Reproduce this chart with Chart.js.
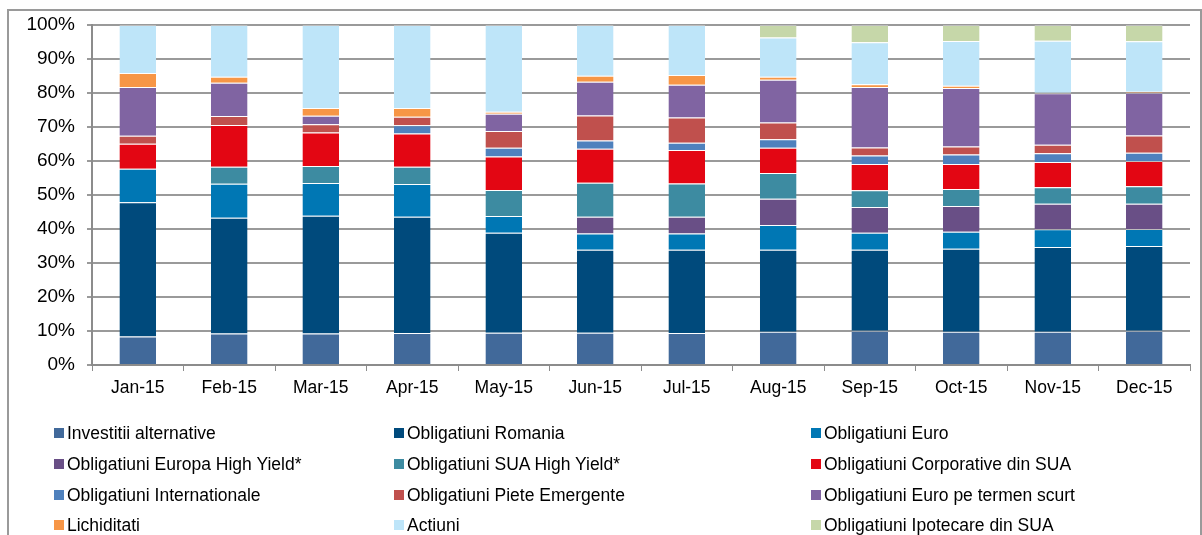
<!DOCTYPE html>
<html>
<head>
<meta charset="utf-8">
<script src="https://cdn.jsdelivr.net/npm/chart.js@4"></script>
<style>
  html, body { margin:0; padding:0; background:#fff; }
  #wrap { position:relative; width:1202px; height:535px; overflow:hidden; font-family:"Liberation Sans", Arial, sans-serif; }
  #frame { position:absolute; left:7px; top:9px; width:1195px; height:600px; border:2px solid #9a9a9a; box-sizing:border-box; }
  #c { position:absolute; left:0; top:0; }
  #legend { position:absolute; left:0; top:0; width:1202px; height:535px; pointer-events:none; }
  .li { position:absolute; font-size:17.5px; color:#000; white-space:nowrap; line-height:20px; }
  .sw { position:absolute; width:10px; height:10px; }
</style>
</head>
<body>
<div id="wrap">
  <div id="frame"></div>
  <canvas id="c" width="1202" height="535"></canvas>
  <div id="legend"></div>
</div>
<script>
const categories = ['Jan-15','Feb-15','Mar-15','Apr-15','May-15','Jun-15','Jul-15','Aug-15','Sep-15','Oct-15','Nov-15','Dec-15'];

const seriesNames = [
  'Investitii alternative', 'Obligatiuni Romania', 'Obligatiuni Euro',
  'Obligatiuni Europa High Yield*', 'Obligatiuni SUA High Yield*', 'Obligatiuni Corporative din SUA',
  'Obligatiuni Internationale', 'Obligatiuni Piete Emergente', 'Obligatiuni Euro pe termen scurt',
  'Lichiditati', 'Actiuni', 'Obligatiuni Ipotecare din SUA'
];

const seriesColors = [
  '#41699A', '#004A7C', '#0077B4',
  '#694F86', '#3D8BA1', '#E30613',
  '#4F81BD', '#C0504D', '#8064A2',
  '#F79646', '#BEE5F9', '#C6D7A9'
];

const investitiiAlternative = [8.35, 9.3, 9.3, 9.4, 9.5, 9.5, 9.4, 9.8, 10.1, 9.8, 9.8, 10.1];
const obligatiuniRomania    = [39.55, 34.0, 34.6, 34.2, 29.4, 24.4, 24.5, 24.1, 23.8, 24.4, 24.9, 24.9];
const obligatiuniEuro       = [9.8, 10.0, 9.6, 9.6, 4.9, 4.8, 4.8, 7.3, 5.0, 5.0, 5.2, 5.0];
const europaHighYield       = [0, 0, 0, 0, 0, 4.9, 4.9, 7.7, 7.6, 7.6, 7.5, 7.4];
const suaHighYield          = [0, 5.0, 5.0, 5.1, 7.7, 10.0, 9.8, 7.6, 4.9, 5.0, 4.9, 5.2];
const corporativeSUA        = [7.4, 12.3, 9.9, 9.8, 9.8, 10.0, 9.8, 7.4, 7.7, 7.3, 7.4, 7.4];
const internationale        = [0, 0, 0, 2.4, 2.6, 2.4, 2.2, 2.5, 2.5, 2.8, 2.6, 2.4];
const pieteEmergente        = [2.3, 2.6, 2.4, 2.5, 4.9, 7.4, 7.4, 4.9, 2.4, 2.4, 2.5, 5.1];
const euroTermenScurt       = [14.4, 9.8, 2.5, 0, 5.1, 9.9, 9.6, 12.6, 17.8, 17.2, 15.1, 12.6];
const lichiditati           = [4.1, 1.8, 2.3, 2.6, 0.6, 1.8, 2.9, 0.9, 0.8, 0.6, 0.2, 0.3];
const actiuni               = [14.1, 15.2, 24.4, 24.4, 25.5, 14.9, 14.7, 11.5, 12.3, 13.2, 15.3, 14.8];
const ipotecareSUA          = [0, 0, 0, 0, 0, 0, 0, 3.7, 5.1, 4.7, 4.6, 4.8];

const yTicks = [0,10,20,30,40,50,60,70,80,90,100];

const seriesValues = [
  investitiiAlternative, obligatiuniRomania, obligatiuniEuro,
  europaHighYield, suaHighYield, corporativeSUA,
  internationale, pieteEmergente, euroTermenScurt,
  lichiditati, actiuni, ipotecareSUA
];

const datasets = seriesNames.map((name, i) => ({
  label: name,
  data: seriesValues[i],
  backgroundColor: seriesColors[i],
  borderColor: 'rgba(255,255,255,0.35)',
  borderWidth: {top:1, bottom:0, left:0, right:0},
  borderSkipped: false,
  barPercentage: 0.4,
  categoryPercentage: 1.0
}));

const FONT = '"Liberation Sans", Arial, sans-serif';

new Chart(document.getElementById('c'), {
  type: 'bar',
  data: { labels: categories, datasets },
  options: {
    responsive: false,
    animation: false,
    events: [],
    layout: { padding: { left: 0, right: 12, top: 25, bottom: 125 } },
    plugins: { legend: { display: false }, tooltip: { enabled: false } },
    scales: {
      x: {
        stacked: true,
        offset: true,
        grid: { display: true, drawOnChartArea: false, drawTicks: true, tickLength: 6, offset: true, color: '#8c8c8c', lineWidth: 1 },
        border: { display: true, color: '#8c8c8c', width: 2 },
        ticks: { color: '#000', font: { family: FONT, size: 17.5 }, padding: 7, maxRotation: 0, autoSkip: false },
        afterFit: (s) => { s.height = 45; }
      },
      y: {
        stacked: true,
        min: 0,
        max: 100,
        afterBuildTicks: (s) => { s.ticks = yTicks.map(v => ({ value: v })); },
        grid: { color: '#9a9a9a', lineWidth: 2, tickLength: 5, drawTicks: true },
        border: { display: true, color: '#8c8c8c', width: 2 },
        ticks: { color: '#000', font: { family: FONT, size: 19 }, padding: 12, callback: (v) => v + '%' },
        afterFit: (s) => { s.width = 92; }
      }
    }
  }
});

// HTML legend, 3 columns, row-major order
const legendEl = document.getElementById('legend');
const colX = [54, 394, 811];
const rowY = [433, 464, 495, 525];
seriesNames.forEach((name, i) => {
  const col = i % 3, row = Math.floor(i / 3);
  const sw = document.createElement('div');
  sw.className = 'sw';
  sw.style.left = colX[col] + 'px';
  sw.style.top = (rowY[row] - 5) + 'px';
  sw.style.background = seriesColors[i];
  legendEl.appendChild(sw);
  const t = document.createElement('div');
  t.className = 'li';
  t.style.left = (colX[col] + 13) + 'px';
  t.style.top = (rowY[row] - 10) + 'px';
  t.textContent = name;
  legendEl.appendChild(t);
});
</script>
</body>
</html>
